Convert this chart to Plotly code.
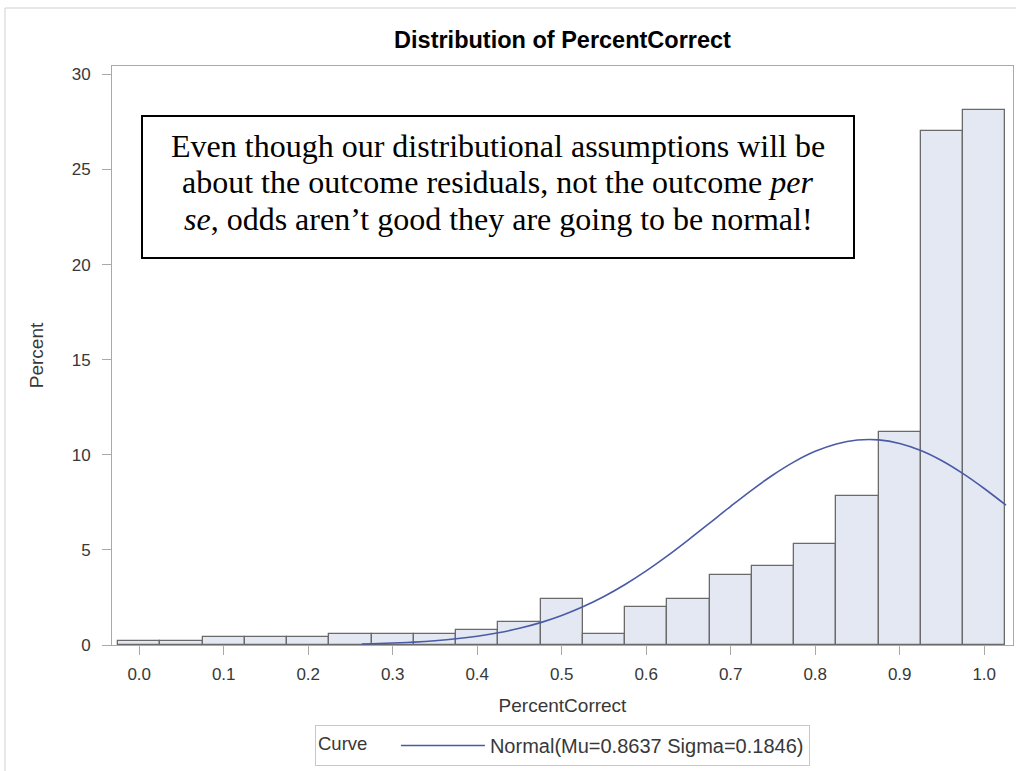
import plotly.graph_objects as go

# ---- data ----
bin_centers = [0.00, 0.05, 0.10, 0.15, 0.20, 0.25, 0.30, 0.35, 0.40, 0.45, 0.50,
               0.55, 0.60, 0.65, 0.70, 0.75, 0.80, 0.85, 0.90, 0.95, 1.00]
bin_percent = [0.2, 0.2, 0.4, 0.4, 0.4, 0.6, 0.6, 0.6, 0.8, 1.2, 2.4,
               0.6, 2.0, 2.4, 3.7, 4.15, 5.3, 7.85, 11.2, 27.0, 28.15]
bin_width = 0.05

curve_x = [0.2633, 0.275, 0.300, 0.325, 0.350, 0.375, 0.400, 0.425, 0.450, 0.475,
           0.500, 0.525, 0.550, 0.575, 0.600, 0.625, 0.650, 0.675, 0.700, 0.725,
           0.750, 0.775, 0.800, 0.825, 0.850, 0.875, 0.900, 0.925, 0.950, 0.975,
           1.000, 1.0258]
curve_y = [0.055, 0.067, 0.102, 0.153, 0.225, 0.325, 0.461, 0.642, 0.877, 1.177,
           1.551, 2.007, 2.551, 3.181, 3.895, 4.683, 5.529, 6.408, 7.292, 8.148,
           8.938, 9.627, 10.181, 10.570, 10.775, 10.785, 10.598, 10.225, 9.687, 9.009,
           8.227, 7.348]
curve_name = "Normal(Mu=0.8637 Sigma=0.1846)"

x_ticks = [0.0, 0.1, 0.2, 0.3, 0.4, 0.5, 0.6, 0.7, 0.8, 0.9, 1.0]
y_ticks = [0, 5, 10, 15, 20, 25, 30]

title_text = "Distribution of PercentCorrect"
x_title = "PercentCorrect"
y_title = "Percent"
legend_title = "Curve"
note_lines = [
    "Even though our distributional assumptions will be",
    "about the outcome residuals, not the outcome <i>per</i>",
    "<i>se</i>, odds aren\u2019t good they are going to be normal!",
]

# ---- layout geometry (pixels) ----
W, H = 1016, 771
ML, MR, MT, MB = 112, 3, 66, 126
PW, PH = W - ML - MR, H - MT - MB


def px_x(p):
    return (p - ML) / PW


def px_y(p):
    return (H - MB - p) / PH


SANS = "Liberation Sans, Arial, sans-serif"
SERIF = "Liberation Serif, Times New Roman, serif"
tick_font = dict(family=SANS, size=17, color="#383838")
label_font = dict(family=SANS, size=19, color="#383838")
legend_font = dict(family=SANS, size=20, color="#383838")
legend_title_font = dict(family=SANS, size=18.5, color="#383838")

fig = go.Figure()
fig.add_trace(go.Bar(
    x=bin_centers, y=bin_percent, width=[bin_width] * len(bin_centers),
    marker=dict(color="#e4e8f2", line=dict(color="#6a6a6a", width=1.3)),
    showlegend=False, hoverinfo="x+y",
))
fig.add_trace(go.Scatter(
    x=curve_x, y=curve_y, mode="lines", name=curve_name,
    line=dict(color="#4a5aa6", width=1.6, shape="spline"),
))

note_centers = [146, 182, 219]
annotations = [
    dict(text=t, xref="paper", yref="paper", x=px_x(498), y=px_y(cy),
         xanchor="center", yanchor="middle", showarrow=False,
         font=dict(family=SERIF, size=32, color="#000000"))
    for t, cy in zip(note_lines, note_centers)
]

fig.update_layout(
    width=W, height=H,
    margin=dict(l=ML, r=MR, t=MT, b=MB, autoexpand=False),
    paper_bgcolor="white", plot_bgcolor="white",
    bargap=0,
    font=tick_font,
    title=dict(text="<b>" + title_text + "</b>", xref="container", x=562.5 / W,
               xanchor="center", yref="container", y=1 - 40 / H, yanchor="middle",
               font=dict(family=SANS, size=23.5, color="#000000")),
    xaxis=dict(range=[-0.0322, 1.0341], tickvals=x_ticks, tickformat=".1f",
               showline=True, linecolor="#a9a9a9", linewidth=1, mirror=True,
               ticks="outside", ticklen=9, tickcolor="#a9a9a9", showgrid=False,
               zeroline=False, tickfont=tick_font, ticklabelstandoff=5,
               title=dict(text=x_title, standoff=15, font=label_font)),
    yaxis=dict(range=[0, 30.44], tickvals=y_ticks,
               showline=True, linecolor="#a9a9a9", linewidth=1, mirror=True,
               ticks="outside", ticklen=9, tickcolor="#a9a9a9", showgrid=False,
               zeroline=False, tickfont=tick_font, ticklabelstandoff=8,
               title=dict(text=y_title, standoff=23, font=label_font)),
    legend=dict(orientation="h", x=0.5, xanchor="center", y=px_y(725), yanchor="top",
                bordercolor="#c8c8c8", borderwidth=1, bgcolor="white",
                font=legend_font, itemwidth=84,
                title=dict(text=legend_title + "    ", side="left", font=legend_title_font)),
    annotations=annotations,
    shapes=[
        dict(type="rect", xref="paper", yref="paper",
             x0=px_x(5), x1=px_x(1030), y0=px_y(8), y1=px_y(790),
             line=dict(color="#d0d0d0", width=1), fillcolor="rgba(0,0,0,0)",
             layer="below"),
        dict(type="rect", xref="paper", yref="paper",
             x0=px_x(142), x1=px_x(854), y0=px_y(116), y1=px_y(258),
             line=dict(color="#000000", width=2), fillcolor="rgba(0,0,0,0)",
             layer="above"),
    ],
)

fig.write_html("out.html")
